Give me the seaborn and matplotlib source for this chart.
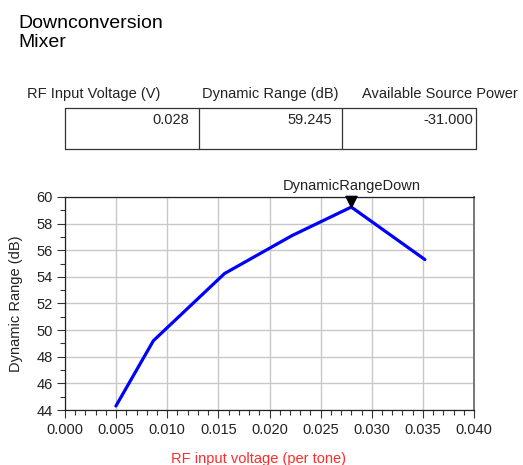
import matplotlib
matplotlib.use("Agg")
import matplotlib.pyplot as plt
from matplotlib.lines import Line2D
from matplotlib.ticker import MultipleLocator, FormatStrFormatter
import numpy as np
import pandas as pd
import seaborn as sns

# Swept RF input voltage (V, per tone) and the resulting dynamic range (dB)
rf_voltage = [0.00498, 0.00864, 0.01560, 0.02220, 0.02800, 0.03520]
dynamic_range = [44.30, 49.20, 54.25, 57.10, 59.245, 55.30]

# Summary table shown above the plot
table_headers = ["RF Input Voltage (V)", "Dynamic Range (dB)", "Available Source Power"]
source_power = -31.000

marker_label = "DynamicRangeDown"
title_lines = ["Downconversion", "Mixer"]
x_label = "RF input voltage (per tone)"
y_label = "Dynamic Range (dB)"

W, H = 523, 465
sns.set_style("white")
plt.rcParams["font.family"] = ["Liberation Sans", "DejaVu Sans"]

fig = plt.figure(figsize=(W / 100, H / 100), dpi=100)


def fx(px):
    return px / W


def fy(py):
    return 1 - py / H


ax = fig.add_axes([fx(65), fy(410), fx(474) - fx(65), fy(197) - fy(410)])

df = pd.DataFrame({"v": rf_voltage, "dr": dynamic_range})
sns.lineplot(data=df, x="v", y="dr", ax=ax, color="#0000ff", linewidth=2.3,
             sort=False, zorder=3)

ax.set_xlim(0, 0.040)
ax.set_ylim(44, 60)
ax.xaxis.set_major_locator(MultipleLocator(0.005))
ax.xaxis.set_minor_locator(MultipleLocator(0.001))
ax.yaxis.set_major_locator(MultipleLocator(2))
ax.yaxis.set_minor_locator(MultipleLocator(1))
ax.xaxis.set_major_formatter(FormatStrFormatter("%.3f"))
ax.yaxis.set_major_formatter(FormatStrFormatter("%d"))
ax.tick_params(axis="both", which="major", direction="out", length=6, width=0.8,
               color="#333333", labelsize=10.5, labelcolor="#222222", pad=3,
               bottom=True, left=True)
ax.tick_params(axis="both", which="minor", direction="out", length=3.5, width=0.8,
               color="#333333", bottom=True, left=True)
ax.grid(True, which="major", color="#c8c8c8", linewidth=1.0, zorder=0)
ax.set_axisbelow(True)
for side in ["left", "bottom", "top"]:
    ax.spines[side].set_color("#222222")
    ax.spines[side].set_linewidth(0.9)
ax.spines["right"].set_color("#777777")
ax.spines["right"].set_linewidth(1.4)

ax.set_xlabel(x_label, color="#ff2a2a", fontsize=10.5)
ax.set_ylabel(y_label, color="#222222", fontsize=10.5)
ax.xaxis.set_label_coords(0.472, -0.195)
ax.yaxis.set_label_coords(-0.102, 0.5)

# Marker at the maximum dynamic range, tip resting on the point
peak = int(np.argmax(dynamic_range))
px_v, px_dr = rf_voltage[peak], dynamic_range[peak]
tri = [(0, 0), (-0.5, 1), (0.5, 1), (0, 0)]
ax.plot([px_v], [px_dr], marker=tri, markersize=16, color="black",
        linestyle="none", clip_on=False, zorder=5)
ax.annotate(marker_label, xy=(px_v, px_dr), xytext=(0, 10), textcoords="offset points",
            ha="center", va="bottom", fontsize=10.5, color="#222222",
            annotation_clip=False)

# Title
fig.text(fx(18), fy(28), title_lines[0], fontsize=14, color="black", va="baseline")
fig.text(fx(18), fy(47), title_lines[1], fontsize=14, color="black", va="baseline")

# Table headers
for cx, txt in zip([94, 270, 440], table_headers):
    fig.text(fx(cx), fy(98), txt, fontsize=10.5, ha="center", va="baseline", color="#222222")

# Table frame
x0, x1, x2, x3 = 65, 199, 342, 476
y0, y1 = 108, 149
frame = [((x0, x3), (y0, y0)), ((x0, x3), (y1, y1)), ((x0, x0), (y0, y1)),
         ((x1, x1), (y0, y1)), ((x2, x2), (y0, y1)), ((x3, x3), (y0, y1))]
for (xa, xb), (ya, yb) in frame:
    fig.add_artist(Line2D([fx(xa), fx(xb)], [fy(ya), fy(yb)], color="#333333",
                          linewidth=0.9, transform=fig.transFigure))

# Table values
values = [f"{px_v:.3f}", f"{px_dr:.3f}", f"{source_power:.3f}"]
for rx, txt in zip([189, 332, 473], values):
    fig.text(fx(rx), fy(124), txt, fontsize=10.5, ha="right", va="baseline", color="#222222")

fig.savefig("out.png", dpi=100)
